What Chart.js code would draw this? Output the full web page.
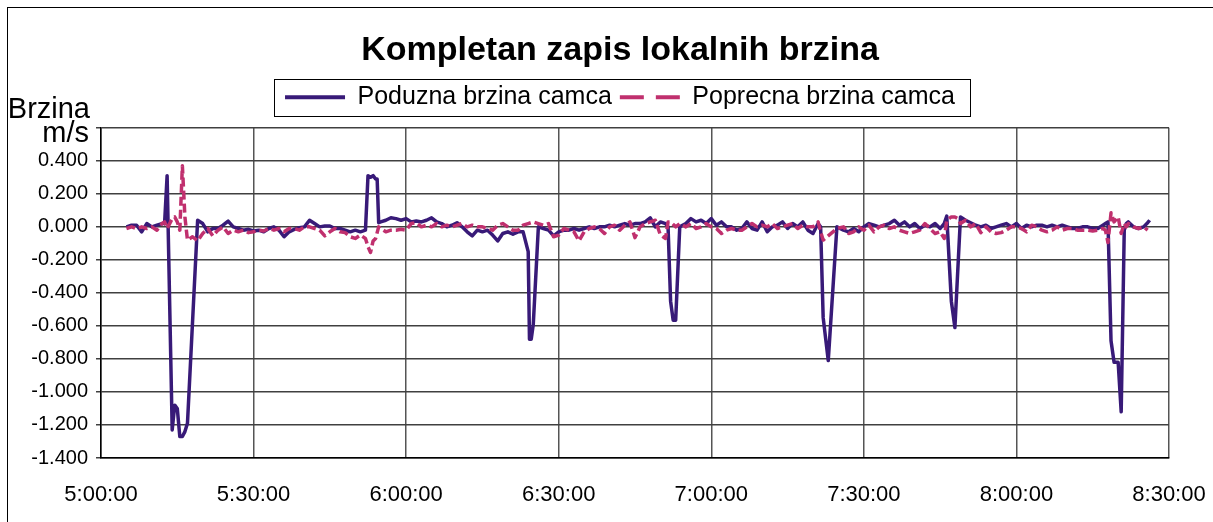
<!DOCTYPE html>
<html>
<head>
<meta charset="utf-8">
<title>Kompletan zapis lokalnih brzina</title>
<script src="https://cdn.jsdelivr.net/npm/chart.js@4.4.1/dist/chart.umd.min.js"></script>
<style>
  html, body { margin: 0; padding: 0; background: #fff; }
  canvas { display: block; }
</style>
</head>
<body>
<canvas id="speedChart" width="1213" height="522"></canvas>
<script>
// vrijeme mjerenja u minutama od ponoci
const times = [
  305, 306, 307, 308, 309, 310, 311, 312, 312.5, 313,
  314, 314.5, 315, 315.5, 316, 316.5, 317, 318, 319, 320,
  321, 322, 323, 324, 325, 326, 327, 328, 329, 330,
  331, 332, 333, 334, 335, 336, 337, 338, 339, 340,
  341, 342, 343, 344, 345, 346, 347, 348, 349, 350,
  351, 352, 352.5, 353, 353.5, 354, 354.3, 354.6, 355, 356,
  357, 358, 359, 360, 361, 362, 363, 364, 365, 366,
  367, 368, 369, 370, 371, 372, 373, 374, 375, 376,
  377, 378, 379, 380, 381, 382, 383, 384, 384.25, 384.6,
  385, 386, 387, 388, 389, 390, 391, 392, 393, 394,
  395, 396, 397, 398, 399, 400, 401, 402, 403, 404,
  405, 406, 407, 408, 409, 410, 411, 411.5, 412, 412.5,
  413, 413.8, 415, 416, 417, 418, 419, 420, 421, 422,
  423, 424, 425, 426, 427, 428, 429, 430, 431, 432,
  433, 434, 435, 436, 437, 438, 439, 440, 441, 441.5,
  442, 442.5, 443, 444.7, 446, 447, 448, 449, 450, 451,
  452, 453, 454, 455, 456, 457, 458, 459, 460, 461,
  462, 463, 464, 465, 465.8, 466.3, 467.2, 467.9, 468.5, 469,
  470, 471, 472, 473, 474, 475, 476, 477, 478, 479,
  480, 481, 482, 483, 484, 485, 486, 487, 488, 489,
  490, 491, 492, 493, 494, 495, 496, 497, 497.5, 498,
  498.6, 499.2, 500, 500.6, 501.2, 501.6, 502, 503, 504, 505,
  505.8, 506.2
];

// Poduzna brzina camca, m/s
const podValues = [
  0.00, 0.01, 0.01, -0.03, 0.02, 0.00, 0.01, 0.02, 0.02, 0.31,
  -1.23, -1.08, -1.10, -1.27, -1.27, -1.24, -1.19, null, 0.04, 0.02,
  -0.03, -0.01, -0.01, 0.01, 0.035, 0.00, -0.01, -0.02, -0.015, -0.025,
  -0.02, -0.03, -0.01, 0.00, -0.02, -0.06, -0.03, -0.015, -0.005, 0.00,
  0.04, 0.02, 0.00, 0.005, 0.005, -0.01, -0.01, -0.02, -0.03, -0.02,
  -0.03, -0.02, 0.31, 0.30, 0.31, 0.29, 0.29, 0.025, 0.03, 0.04,
  0.055, 0.05, 0.04, 0.05, 0.03, 0.035, 0.03, 0.04, 0.055, 0.03,
  0.02, 0.00, 0.01, 0.025, 0.00, -0.03, -0.055, -0.02, -0.03, -0.02,
  -0.05, -0.085, -0.04, -0.03, -0.045, -0.03, -0.03, -0.15, -0.68, -0.68,
  -0.59, 0.00, -0.01, -0.02, -0.055, -0.03, -0.02, -0.02, -0.01, -0.02,
  -0.01, 0.00, -0.01, 0.00, 0.00, 0.01, 0.00, 0.01, 0.02, 0.01,
  0.02, 0.02, 0.03, 0.055, 0.00, 0.03, 0.02, 0.00, -0.45, -0.565,
  -0.565, 0.00, 0.02, 0.05, 0.03, 0.04, 0.02, 0.05, 0.01, 0.03,
  0.00, 0.00, -0.02, -0.01, 0.03, -0.01, -0.02, 0.03, -0.03, 0.00,
  0.01, 0.03, -0.01, 0.02, 0.00, 0.03, -0.02, -0.04, 0.02, 0.00,
  -0.55, -0.68, -0.81, 0.00, -0.02, -0.03, -0.01, -0.03, 0.00, 0.02,
  0.01, 0.00, 0.01, 0.02, 0.04, 0.01, 0.03, 0.00, 0.02, -0.01,
  0.01, 0.00, 0.02, -0.01, 0.02, 0.065, -0.45, -0.61, null, 0.06,
  0.04, 0.025, 0.01, 0.00, 0.01, -0.01, 0.00, 0.01, 0.02, 0.00,
  0.02, -0.01, 0.01, 0.00, 0.01, 0.01, 0.00, 0.01, 0.00, 0.01,
  0.00, -0.01, -0.01, 0.00, 0.00, -0.01, -0.01, 0.01, 0.02, 0.03,
  -0.69, -0.82, -0.82, -1.12, -0.02, 0.02, 0.03, 0.00, -0.01, 0.00,
  0.025, 0.04
];

// Poprecna brzina camca, m/s
const popValues = [
  -0.01, 0.00, -0.01, 0.00, -0.01, 0.00, -0.02, 0.02, 0.03, -0.01,
  0.05, 0.06, 0.03, -0.02, 0.37, 0.06, -0.08, -0.06, -0.085, -0.04,
  -0.01, -0.055, -0.02, 0.00, -0.04, -0.02, -0.03, -0.02, -0.035, -0.03,
  -0.02, -0.025, -0.01, -0.02, -0.01, -0.03, -0.01, -0.01, -0.02, 0.00,
  0.00, -0.01, -0.02, -0.055, -0.03, -0.01, -0.03, -0.035, -0.06, -0.07,
  -0.05, -0.07, -0.12, -0.155, -0.085, -0.07, null, 0.00, -0.01, -0.03,
  -0.02, -0.02, -0.015, -0.02, 0.02, 0.025, 0.00, 0.01, 0.00, 0.02,
  0.00, 0.01, 0.00, 0.01, 0.02, 0.00, 0.01, 0.00, 0.00, -0.01,
  -0.02, 0.01, 0.02, 0.00, -0.02, -0.02, 0.01, 0.02, null, null,
  0.03, 0.02, 0.01, 0.02, -0.06, -0.05, -0.01, -0.02, -0.03, -0.085,
  -0.03, -0.01, 0.00, -0.01, -0.04, 0.00, 0.01, -0.02, 0.01, 0.03,
  -0.065, 0.00, 0.02, 0.03, 0.04, -0.05, -0.07, 0.03, 0.03, null,
  0.00, 0.02, 0.00, 0.02, -0.01, 0.00, 0.02, 0.00, -0.01, -0.04,
  -0.02, -0.01, -0.02, -0.02, 0.00, 0.02, 0.00, 0.01, 0.00, 0.02,
  -0.01, 0.00, 0.01, 0.02, -0.01, 0.01, 0.00, 0.00, 0.03, -0.03,
  -0.08, null, null, -0.01, 0.00, -0.04, -0.03, 0.00, -0.02, 0.01,
  -0.03, 0.00, 0.01, -0.01, 0.00, -0.02, -0.03, -0.04, -0.03, -0.02,
  0.02, -0.01, -0.04, -0.03, -0.07, 0.04, 0.06, 0.06, 0.05, 0.02,
  0.04, 0.00, 0.02, -0.035, 0.00, -0.03, -0.04, -0.035, -0.02, 0.00,
  0.00, -0.01, -0.03, 0.01, 0.00, -0.02, -0.03, -0.02, 0.00, -0.02,
  -0.01, -0.01, -0.02, -0.02, -0.02, -0.025, -0.02, -0.01, -0.02, -0.095,
  0.085, 0.03, 0.06, -0.04, 0.02, 0.00, 0.02, 0.00, -0.01, 0.00,
  -0.02, null
];

const seriesNames = ['Poduzna brzina camca', 'Poprecna brzina camca'];
const xTickLabels = ['5:00:00', '5:30:00', '6:00:00', '6:30:00', '7:00:00', '7:30:00', '8:00:00', '8:30:00'];

const FONT = '"Liberation Sans", Arial, sans-serif';
Chart.defaults.font.family = FONT;
Chart.defaults.color = '#000';

const toPoints = values => times.map((t, i) => ({ x: t, y: values[i] }));

// okvir oko cijelog grafikona
const frame = {
  id: 'frame',
  beforeDraw(chart) {
    const ctx = chart.ctx;
    ctx.save();
    ctx.strokeStyle = '#000';
    ctx.lineWidth = 1;
    ctx.strokeRect(7.5, 7.5, 1400, 700);
    ctx.restore();
  }
};

// okvir legende, naslov osi y, i sirina podrucja za oznake osi y
const extras = {
  id: 'extras',
  afterLayout(chart) {
    // oznake osi y smiju izaci lijevo od uske osi
    chart.scales.y.left = 0;
  },
  afterDraw(chart) {
    const ctx = chart.ctx;
    const boxes = chart.legend.legendHitBoxes;
    if (boxes && boxes.length) {
      const first = boxes[0];
      const last = boxes[boxes.length - 1];
      const left = Math.round(first.left - 11) + 0.5;
      const right = Math.round(last.left + last.width + 15) + 0.5;
      const top = Math.round(first.top - 6) + 0.5;
      const bottom = Math.round(first.top + first.height + 6) + 0.5;
      ctx.save();
      ctx.strokeStyle = '#000';
      ctx.lineWidth = 1;
      ctx.strokeRect(left, top, right - left, bottom - top);
      ctx.restore();
    }
    ctx.save();
    ctx.fillStyle = '#000';
    ctx.font = '29px ' + FONT;
    ctx.textAlign = 'right';
    ctx.textBaseline = 'alphabetic';
    ctx.fillText('Brzina', 90, 118);
    ctx.fillText('m/s', 89, 142);
    ctx.restore();
  }
};

const ctx = document.getElementById('speedChart').getContext('2d');
new Chart(ctx, {
  type: 'line',
  data: {
    datasets: [{
      label: seriesNames[0],
      data: toPoints(podValues),
      borderColor: '#381a78',
      backgroundColor: '#381a78',
      borderWidth: 3.5,
      order: 1
    }, {
      label: seriesNames[1],
      data: toPoints(popValues),
      borderColor: '#c0306e',
      backgroundColor: '#c0306e',
      borderWidth: 3.5,
      borderDash: [9, 4],
      order: 0
    }]
  },
  options: {
    responsive: false,
    animation: false,
    devicePixelRatio: 1,
    spanGaps: true,
    layout: {
      padding: { left: 71, right: 44, top: 0, bottom: 0 }
    },
    elements: {
      point: { radius: 0 },
      line: { tension: 0, borderJoinStyle: 'round' }
    },
    plugins: {
      title: {
        display: true,
        text: 'Kompletan zapis lokalnih brzina',
        color: '#000',
        font: { size: 34, weight: 'bold' },
        padding: { top: 30, bottom: 6 }
      },
      // prazan podnaslov ispod legende, samo kao razmak
      subtitle: {
        display: true,
        text: '',
        weight: 500,
        padding: 0,
        font: { size: 8, lineHeight: 1 }
      },
      legend: {
        position: 'top',
        labels: {
          usePointStyle: true,
          pointStyle: 'line',
          pointStyleWidth: 60,
          padding: 8,
          color: '#000',
          font: { size: 25 },
          sort: (a, b) => a.datasetIndex - b.datasetIndex,
          generateLabels: function (chart) {
            const items = Chart.defaults.plugins.legend.labels.generateLabels(chart);
            items.forEach(item => {
              item.lineWidth = 4;
              if (item.datasetIndex === 1) {
                item.lineDash = [24, 12];
              }
            });
            return items;
          }
        }
      },
      tooltip: { enabled: false }
    },
    scales: {
      x: {
        type: 'linear',
        min: 300,
        max: 510,
        afterFit: function (scale) { scale.height = 64; },
        ticks: {
          stepSize: 30,
          maxRotation: 0,
          padding: 4,
          font: { size: 22 },
          color: '#000',
          callback: function (value, index) {
            return xTickLabels[index];
          }
        },
        grid: {
          color: '#555',
          lineWidth: 1.5,
          drawTicks: true,
          tickLength: 20,
          tickColor: 'rgba(0,0,0,0)'
        },
        border: { color: '#000', width: 1.5 }
      },
      y: {
        min: -1.4,
        max: 0.6,
        afterFit: function (scale) { scale.width = 30; },
        ticks: {
          stepSize: 0.2,
          padding: 8,
          font: { size: 20 },
          color: '#000',
          callback: function (value) {
            if (value > 0.5) return '';
            const v = Math.abs(value) < 1e-9 ? 0 : value;
            return v.toFixed(3);
          }
        },
        grid: {
          color: '#404040',
          lineWidth: 1.5,
          tickLength: 5
        },
        border: { color: '#000', width: 1.5 }
      }
    }
  },
  plugins: [frame, extras]
});
</script>
</body>
</html>
